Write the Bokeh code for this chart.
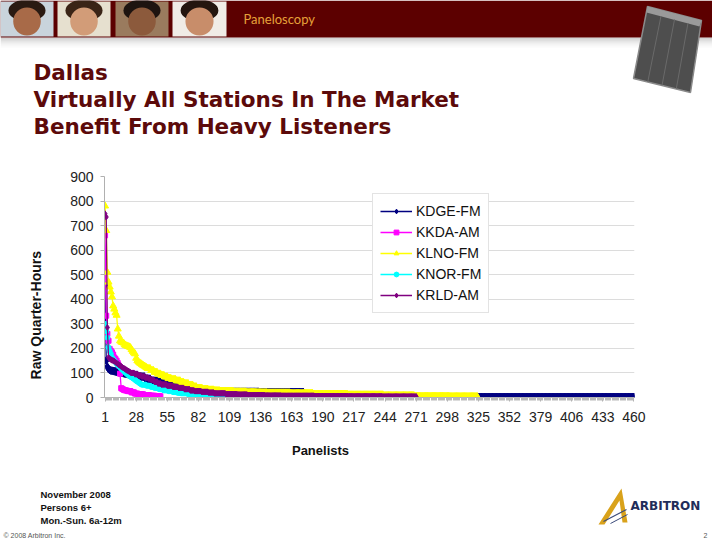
import math
import numpy as np
from bokeh.plotting import figure
from bokeh.models import Range1d, FixedTicker, Legend, LegendItem
from bokeh.layouts import column, row
from bokeh.embed import file_html
from bokeh.resources import INLINE
from bokeh.core.properties import value

# ---------------- data ----------------
stations = ["KDGE-FM", "KKDA-AM", "KLNO-FM", "KNOR-FM", "KRLD-AM"]
colors = ["#000080", "#FF00FF", "#FFFF00", "#00FFFF", "#800080"]
markers = ["diamond", "square", "triangle", "circle", "diamond"]
marker_sizes = [8, 5, 7, 5, 6]

# Sorted raw quarter-hours per panelist, stored as (value, number of panelists) runs
kdge_vals = [456, 150, 125, 116, 112, 110, 109, 108, 107, 106, 105, 104, 103,
             102, 101, 100, 99, 98, 97, 96, 95, 94, 93,
             92, 85, 76, 68, 58, 48, 38, 32, 26, 23, 22, 2]
kdge_counts = [1] * 23 + [6, 6, 5, 8, 8, 8, 10, 10, 11, 39, 39, 287]

kkda_vals = [660, 333, 259, 231, 198, 190, 184, 175, 163, 157, 150, 140, 130, 97,
             38, 35, 32, 30, 29, 28, 26, 21, 16, 13, 10, 7, 5]
kkda_counts = [1] * 20 + [3, 3, 3, 5, 5, 5, 5]

klno_vals = [780, 680, 510, 470, 450, 430, 410, 373, 360, 345, 335, 279, 250, 231,
             226, 224, 222, 215, 212, 210, 208, 206, 203, 195, 188, 182, 178,
             160, 150, 145, 141, 138, 134, 131, 128, 125, 122,
             118, 110, 103, 96, 90, 84, 78, 74, 68, 62, 57, 50, 44, 38,
             34, 31, 28, 26, 23, 21, 20, 19, 17, 14, 11, 8, 5, 4]
klno_counts = [1] * 37 + [3, 3, 3, 3, 3, 3, 3, 4, 4, 3, 4, 4, 3, 5,
                          5, 5, 5, 12, 11, 9, 9, 20, 20, 30, 31, 27, 30, 25]

knor_vals = [300, 270, 244, 204, 190, 178, 163, 156, 150,
             144, 138, 133, 128, 123, 118, 113, 109, 104, 100, 96,
             92, 88, 85, 82, 79, 76, 72, 68, 65, 62, 58, 55,
             52, 48, 43, 39, 34, 29, 26, 22, 19, 17, 14, 11, 9, 7, 5, 4, 2]
knor_counts = [1] * 32 + [4, 4, 3, 4, 4, 4, 4, 4, 3, 6, 6, 6, 5, 5, 4, 16, 16]

krld_vals = [748, 735, 285, 163, 158, 155, 152, 150, 148, 144, 140, 137, 133, 130,
             126, 123, 120, 117, 114, 111, 108, 105, 102,
             100, 95, 90, 86, 81, 77, 72, 64, 57, 53, 48, 43, 39, 34, 29,
             26, 23, 20, 17, 14, 12, 10, 8, 7, 6, 5, 4]
krld_counts = [1] * 23 + [3, 3, 3, 3, 3, 2, 3, 3, 3, 5, 5, 5, 5, 5, 4,
                          6, 6, 5, 10, 10, 9, 15, 14, 29, 29, 30, 30]

series_vals = [kdge_vals, kkda_vals, klno_vals, knor_vals, krld_vals]
series_counts = [kdge_counts, kkda_counts, klno_counts, knor_counts, krld_counts]

x_ticks = [1, 28, 55, 82, 109, 136, 163, 190, 217, 244, 271, 298, 325, 352, 379, 406, 433, 460]
n_categories = 460
y_ticks = [0, 100, 200, 300, 400, 500, 600, 700, 800, 900]

header_text = "Paneloscopy"
title_lines = ["Dallas", "Virtually All Stations In The Market", "Benefit From Heavy Listeners"]
y_title = "Raw Quarter-Hours"
x_title = "Panelists"
footer_lines = ["November 2008", "Persons 6+", "Mon.-Sun. 6a-12m"]
copyright_text = "\u00a9 2008 Arbitron Inc."
page_number = "2"
logo_text = "ARBITRON"

ARIAL = value("Liberation Sans")


def blank(width, height, xr, yr):
    p = figure(width=width, height=height, x_range=Range1d(*xr), y_range=Range1d(*yr),
               output_backend="svg", toolbar_location=None,
               x_axis_type=None, y_axis_type=None, min_border=0)
    p.grid.visible = False
    p.outline_line_color = None
    p.background_fill_color = "white"
    p.border_fill_color = "white"
    return p


# ---------------- header (slide banner + title) ----------------
head = blank(712, 150, (0, 712), (150, 0))
for i, a in enumerate([0.35, 0.25, 0.16, 0.09, 0.04]):
    head.quad(left=0, right=712, top=37 + i * 2, bottom=39 + i * 2, fill_color="#808080",
              fill_alpha=a, line_color=None)
head.quad(left=0, right=712, top=0, bottom=37, fill_color="#5c0000", line_color=None)
photos = [(0, 53, "#c9d4dc", "#a86a48", "#2a1a12"),
          (57, 110, "#e6e0cf", "#d29c78", "#3a2416"),
          (115, 168, "#9a7b5e", "#8c5a3c", "#1e1410"),
          (172, 226, "#f0ece6", "#c88d6a", "#24160f")]
for (l, r, bg, skin, hair) in photos:
    head.quad(left=l, right=r, top=1, bottom=36, fill_color=bg, line_color=None)
    cx = (l + r) / 2
    head.ellipse(x=cx, y=10, width=(r - l) * 0.7, height=22, fill_color=hair, line_color=None)
    head.ellipse(x=cx, y=21, width=(r - l) * 0.52, height=28, fill_color=skin, line_color=None)
head.text(x=[243], y=[18], text=[header_text], text_font=value("Lato"), text_font_size="13px",
          text_color="#e6a23a", text_baseline="middle")
head.patch([647, 701, 690, 633], [6, 20, 92, 78], fill_color="#4e4e4e", line_color="#8a8a8a",
           line_width=1.5)
head.patch([647, 701, 699, 646], [6, 20, 26, 12], fill_color="#9a9a9a", line_color=None)
for k in range(1, 4):
    t = k / 4
    head.line([647 + 54 * t, 633 + 57 * t], [12 + 14 * t, 78 + 14 * t], line_color="#6a6a6a",
              line_width=1)
for i, txt in enumerate(title_lines):
    head.text(x=[33], y=[72 + 27 * i], text=[txt], text_font=value("DejaVu Sans"),
              text_font_size="21.5px", text_font_style="bold", text_color="#5c0a0a",
              text_baseline="alphabetic")

# ---------------- chart ----------------
chart = figure(width=664, height=282, x_range=Range1d(0.5, n_categories + 0.5),
               y_range=Range1d(0, 900), output_backend="svg", toolbar_location=None,
               min_border_left=56, min_border_right=78, min_border_top=26, min_border_bottom=35)
chart.outline_line_color = None
chart.background_fill_color = "white"
chart.border_fill_color = "white"
chart.xgrid.visible = False
chart.ygrid.grid_line_color = "#dcdcdc"
chart.ygrid.grid_line_width = 1

chart.yaxis.ticker = FixedTicker(ticks=y_ticks)
chart.xaxis.ticker = FixedTicker(ticks=x_ticks, minor_ticks=list(range(1, n_categories + 1)))
for ax in (chart.xaxis, chart.yaxis):
    ax.axis_line_color = "#b0b0b0"
    ax.major_tick_line_color = "#b0b0b0"
    ax.major_tick_in = 0
    ax.major_tick_out = 4
    ax.major_label_text_font = "Liberation Sans"
    ax.major_label_text_font_size = "14px"
    ax.major_label_text_color = "#222222"
chart.yaxis.minor_tick_line_color = None
chart.xaxis.minor_tick_line_color = "#b8b8b8"
chart.xaxis.minor_tick_in = 0
chart.xaxis.minor_tick_out = 3
chart.xaxis.major_label_standoff = 10
chart.yaxis.major_label_standoff = 7

items = []
for name, col, mk, ms, vals, cnts in zip(stations, colors, markers, marker_sizes,
                                          series_vals, series_counts):
    ys = np.repeat(np.array(vals, dtype=float), np.array(cnts))
    xs = np.arange(1, len(ys) + 1)
    lr = chart.line(xs, ys, line_color=col, line_width=1.3)
    sr = chart.scatter(xs, ys, marker=mk, size=ms, fill_color=col, line_color=col)
    items.append(LegendItem(label=name, renderers=[lr, sr]))

legend = Legend(items=items, location=(268, 84), orientation="vertical")
legend.label_text_font = "Liberation Sans"
legend.label_text_font_size = "14px"
legend.label_text_color = "#111111"
legend.glyph_width = 32
legend.glyph_height = 12
legend.label_height = 20
legend.spacing = 1
legend.padding = 7
legend.margin = 0
legend.label_standoff = 4
legend.border_line_color = "#c8c8c8"
legend.background_fill_color = "white"
legend.background_fill_alpha = 1.0
chart.add_layout(legend)

left = blank(48, 282, (0, 48), (432, 150))
left.text(x=[35], y=[327], text=[y_title], angle=math.pi / 2, text_font=ARIAL,
          text_font_size="14px", text_font_style="bold", text_color="#111111",
          text_align="center", text_baseline="middle")

# ---------------- footer ----------------
foot = blank(712, 113, (0, 712), (545, 432))
foot.text(x=[320], y=[450], text=[x_title], text_font=ARIAL, text_font_size="13px",
          text_font_style="bold", text_color="#111111", text_align="center",
          text_baseline="middle")
for i, txt in enumerate(footer_lines):
    foot.text(x=[40], y=[494 + 13 * i], text=[txt], text_font=ARIAL,
              text_font_size="9.5px", text_font_style="bold", text_color="#111111",
              text_baseline="middle")
foot.text(x=[3], y=[535], text=[copyright_text], text_font=ARIAL, text_font_size="7px",
          text_color="#555555", text_baseline="middle")
foot.text(x=[707], y=[535], text=[page_number], text_font=ARIAL, text_font_size="7px",
          text_color="#555555", text_baseline="middle", text_align="right")
foot.patch([598, 621, 627, 622, 619, 604], [524, 488, 522, 522, 500, 524],
           fill_color="#d9a21b", line_color=None)
foot.line([603, 626], [521, 509], line_color="#3a4a7a", line_width=1.2)
foot.line([610, 627], [523, 514], line_color="#3a4a7a", line_width=1)
foot.text(x=[630], y=[505], text=[logo_text], text_font=value("DejaVu Sans"),
          text_font_size="12px", text_font_style="bold", text_color="#1f2d5a",
          text_baseline="middle")

layout = column(head, row(left, chart), foot)
open("out.html", "w").write(file_html(layout, INLINE))
